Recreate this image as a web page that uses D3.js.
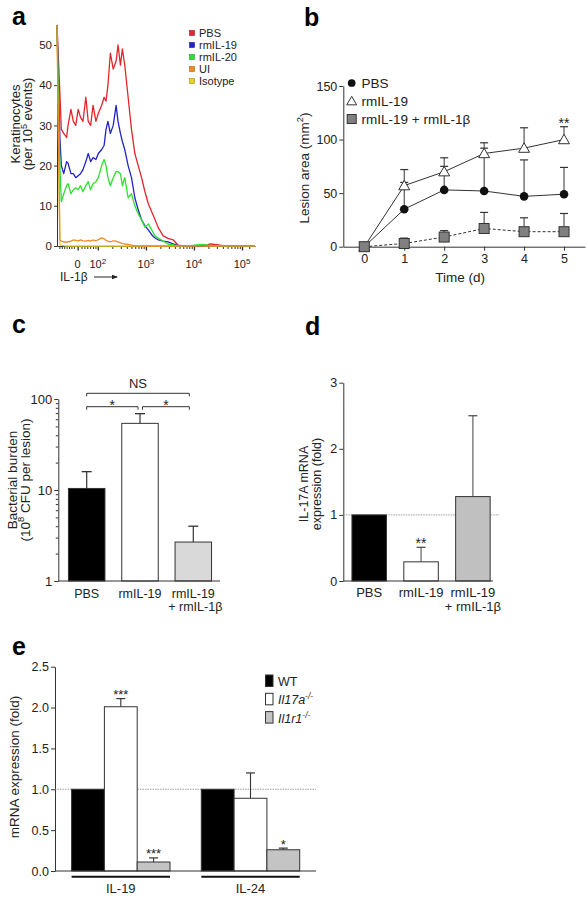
<!DOCTYPE html>
<html><head><meta charset="utf-8">
<script src="https://cdn.jsdelivr.net/npm/d3@7/dist/d3.min.js"></script>
<style>
html,body{margin:0;padding:0;background:#fff;}
svg text{font-family:"Liberation Sans",Arial,Helvetica,sans-serif;fill:#222;}
</style></head>
<body><svg id="fig" width="588" height="900"></svg>
<script>
// ================= DATA =================
// Panel a: IL-1beta histograms (x in logicle display units, y = keratinocytes per 1e5 events)
const histBins = [1.15,1.21,1.24,1.29,1.35,1.38,1.44,1.49,1.54,1.59,1.64,1.69,1.75,1.80,1.85,1.90,1.96,2.01,2.08,2.13,2.17,2.21,2.26,2.32,2.38,2.42,2.47,2.51,2.56,2.63,2.70,2.77,2.84,2.91,2.98,3.05,3.12,3.19,3.26,3.36,3.46,3.57,3.67,3.78,3.90,4.05,4.20,4.35,4.50,4.65,4.80,5.00,5.27];
const histPBS = [55,38,29,28,27,30,34,31,30,34,32,31,37,31,30,35,31,33,35,37,36,40,48,44,46,50,45,49,45,37,29,23,20,17,13.5,10.5,8.5,6.5,4.5,2.5,1.9,1.5,0.2,0,0,0,0,0.5,0.3,0,0,0,0];
const histIL19 = [55,27,20,18,21,20.6,18,18,17,17.5,18,19,21,23,21,22,21.5,23,24,25,29,31,28,30,35,31,28,26,24,20,17,12,9,6.5,5,4,2.8,2,1.5,1.2,1,0.5,0.1,0,0,0,0,0,0,0,0,0,0];
const histIL20 = [55,20,11,13,15,15.5,13,14,14.5,14,15,13.5,15,16,14,15.5,16,17,20,21.5,20,17,15,17,18.5,18.5,18,15,17,12,13,10,8,6.5,4.7,5.5,4,2.5,1.9,1.2,0.5,0.3,0,0,0,0.3,0.4,0,0,0,0,0,0];
const histUI = [55,1.5,1.2,1,1,1,1.2,1.5,1.4,1.3,1.5,1.3,1.2,1.4,1.2,1.5,1.3,1.6,2,1.8,1.4,1.2,1,1.3,1.2,1,0.8,0.6,0.5,0.4,0.2,0.1,0,0,0,0,0,0,0,0,0,0,0,0,0,0,0,0,0,0,0,0,0];
const histIso = [55,0.4,0.2,0.1,0,0,0,0,0,0,0,0,0,0,0,0,0,0,0,0,0,0,0,0,0,0,0,0,0,0,0,0,0,0,0,0,0,0,0,0,0,0,0,0,0,0,0,0,0,0,0,0,0];
const histNames = ['PBS','rmIL-19','rmIL-20','UI','Isotype'];
const histColors = ['#e3262b','#2222c8','#2ee02e','#f08a24','#e6d21a'];
const aYTicks = [0,10,20,30,40,50];
const aXMajor = [1.58,2,3,4,5];
const aXLabels = ['0','10^2','10^3','10^4','10^5'];
const aXMinor = [1.20,1.25,1.30,1.35,1.40,1.45,1.50,1.66,1.72,1.78,1.84,1.90,1.95,
  2.301,2.477,2.602,2.699,2.778,2.845,2.903,2.954,
  3.301,3.477,3.602,3.699,3.778,3.845,3.903,3.954,
  4.301,4.477,4.602,4.699,4.778,4.845,4.903,4.954,5.15];

// Panel b: lesion area over time
const days = [0,1,2,3,4,5];
const lesionPBS = [0,35,53,52,47,49];
const lesionPBSErr = [0,25,22,40,34,25];
const lesionIL19 = [0,57,70,87,92,100];
const lesionIL19Err = [0,15,13,10,19,12];
const lesionCombo = [0,3,9,17,14,14];
const lesionComboErr = [0,5,6,15,13,17];
const bYTicks = [0,50,100,150];
const bNames = ['PBS','rmIL-19','rmIL-19 + rmIL-1β'];

// Panel c: bacterial burden (log)
const cCats = ['PBS','rmIL-19','rmIL-19 + rmIL-1β'];
const cLabels = [['PBS'],['rmIL-19'],['rmIL-19','+ rmIL-1β']];
const cValues = [10.4,54,2.68];
const cErrTop = [15.9,69,4.0];
const cFills = ['#000000','#ffffff','#d9d9d9'];
const cYTicks = [1,10,100];
const cYMinor = [2,3,4,5,6,7,8,9,20,30,40,50,60,70,80,90];

// Panel d: IL-17A mRNA
const dCats = ['PBS','rmIL-19','rmIL-19 + rmIL-1β'];
const dLabels = [['PBS'],['rmIL-19'],['rmIL-19','+ rmIL-1β']];
const dValues = [1.0,0.29,1.277];
const dErrTop = [1.0,0.51,2.5];
const dFills = ['#000000','#ffffff','#c0c0c0'];
const dStars = ['','**',''];
const dYTicks = [0,1,2,3];

// Panel e: mRNA expression by genotype
const eGenes = ['IL-19','IL-24'];
const eGenotypes = ['WT','Il17a','Il1r1'];
const eWT = [1.0,1.0];
const eIl17a = [2.01,0.89];
const eIl1r1 = [0.11,0.26];
const eWTErr = [0,0];
const eIl17aErr = [0.10,0.31];
const eIl1r1Err = [0.05,0.02];
const eIl17aStars = ['***',''];
const eIl1r1Stars = ['***','*'];
const eFills = ['#000000','#ffffff','#c4c4c4'];
const eYTicks = [0,0.5,1.0,1.5,2.0,2.5];

// ================= DRAWING =================
const svg = d3.select('#fig');
const AX = '#333';
function styleAxis(g, fs) {
  g.select('.domain').attr('stroke', AX).attr('stroke-width', 1);
  g.selectAll('.tick line').attr('stroke', AX);
  g.selectAll('.tick text').attr('font-size', fs).attr('fill', '#222');
}
function panelLabel(t, x, y) {
  svg.append('text').attr('x', x).attr('y', y).attr('font-size', 25)
    .attr('font-weight', 'bold').style('fill', '#000').text(t);
}
function rotText(x, cy, fs, parts) {
  const t = svg.append('text').attr('transform', `translate(${x},${cy}) rotate(-90)`)
    .attr('text-anchor', 'middle').attr('font-size', fs);
  parts.forEach(p => {
    const s = t.append('tspan').text(p.t);
    if (p.sup) s.attr('dy', -fs * 0.38).attr('font-size', fs * 0.7);
    if (p.after) s.attr('dy', fs * 0.38);
  });
  return t;
}

// ---------- Panel a ----------
panelLabel('a', 12, 25);
const xA = d3.scaleLinear().domain([1.15, 5.27]).range([57, 255]);
const yA = d3.scaleLinear().domain([0, 55]).range([246, 24.9]);
const ayG = svg.append('g').attr('transform', 'translate(57,0)')
  .call(d3.axisLeft(yA).tickValues(aYTicks).tickFormat(d3.format('d')).tickSize(3).tickSizeOuter(0).tickPadding(2));
styleAxis(ayG, 11.5);
const axG = svg.append('g').attr('transform', 'translate(0,246)')
  .call(d3.axisBottom(xA).tickValues(aXMajor).tickSize(4.5).tickSizeOuter(0).tickFormat(''));
styleAxis(axG, 10);
axG.selectAll('.tick line').attr('stroke-width', 1.4);
const axmG = svg.append('g').attr('transform', 'translate(0,246)')
  .call(d3.axisBottom(xA).tickValues(aXMinor).tickSize(3).tickFormat(''));
axmG.select('.domain').remove();
axmG.selectAll('.tick line').attr('stroke', AX);
aXMajor.forEach((u, i) => {
  const lab = aXLabels[i];
  const t = svg.append('text').attr('x', xA(u)).attr('y', 268).attr('text-anchor', 'middle').attr('font-size', 11);
  if (lab.includes('^')) {
    const [b, e] = lab.split('^');
    t.append('tspan').text(b);
    t.append('tspan').text(e).attr('dy', -4).attr('font-size', 8);
  } else t.text(lab);
});
svg.append('text').attr('x', 60).attr('y', 281).attr('font-size', 12).text('IL-1β');
svg.append('line').attr('x1', 94).attr('x2', 117).attr('y1', 277).attr('y2', 277).attr('stroke', '#222').attr('stroke-width', 1);
svg.append('path').attr('d', 'M118,277 L112,274.8 L112,279.2 Z').attr('fill', '#222');
const lineA = d3.line().x((d, i) => xA(histBins[i])).y(d => yA(d));
const histSeries = [histIso, histPBS, histIL19, histIL20, histUI];
const histOrder = [4, 0, 1, 2, 3];
histSeries.forEach((s, k) => {
  svg.append('path').datum(s).attr('d', lineA).attr('fill', 'none')
    .attr('stroke', histColors[histOrder[k]]).attr('stroke-width', 1.3).attr('stroke-linejoin', 'round');
});
rotText(19.5, 124, 13, [{t: 'Keratinocytes'}]);
rotText(32, 124, 13, [{t: '(per 10'}, {t: '5', sup: true}, {t: ' events)', after: true}]);
histNames.forEach((n, i) => {
  const y = 37 + i * 12;
  svg.append('rect').attr('x', 189.5).attr('y', y - 6.5).attr('width', 5).attr('height', 5)
    .attr('fill', histColors[i]).attr('stroke', d3.color(histColors[i]).darker(1)).attr('stroke-width', 0.6);
  svg.append('text').attr('x', 199).attr('y', y).attr('font-size', 11).text(n);
});

// ---------- Panel b ----------
panelLabel('b', 304, 26);
const xB = d3.scaleLinear().domain([-0.525, 5.525]).range([343.3, 585]);
const yB = d3.scaleLinear().domain([0, 150]).range([246.7, 86]);
const byG = svg.append('g').attr('transform', `translate(${xB(-0.525)},0)`)
  .call(d3.axisLeft(yB).tickValues(bYTicks).tickFormat(d3.format('d')).tickSize(4).tickSizeOuter(0).tickPadding(2));
styleAxis(byG, 12.5);
const bxG = svg.append('g').attr('transform', `translate(0,${yB(0)})`)
  .call(d3.axisBottom(xB).tickValues(days).tickFormat(d3.format('d')).tickSize(4).tickSizeOuter(0).tickPadding(3));
styleAxis(bxG, 12.5);
svg.append('text').attr('x', xB(2.4)).attr('y', 282).attr('text-anchor', 'middle').attr('font-size', 13.5).text('Time (d)');
rotText(308.5, 168, 13.5, [{t: 'Lesion area (mm'}, {t: '2', sup: true}, {t: ')', after: true}]);
const bSeries = [
  {vals: lesionPBS, errs: lesionPBSErr, marker: 'circle', dash: null},
  {vals: lesionIL19, errs: lesionIL19Err, marker: 'triangle', dash: null},
  {vals: lesionCombo, errs: lesionComboErr, marker: 'square', dash: '3,2'}
];
function drawMarker(g, type, x, y, scale) {
  const s = scale || 1;
  if (type === 'circle') g.append('circle').attr('cx', x).attr('cy', y).attr('r', 4.3 * s).attr('fill', '#111');
  else if (type === 'triangle') g.append('path').attr('transform', `translate(${x},${y + 1})`)
    .attr('d', d3.symbol(d3.symbolTriangle, 52 * s * s)()).attr('fill', '#fff').attr('stroke', '#333').attr('stroke-width', 1);
  else g.append('rect').attr('x', x - 5 * s).attr('y', y - 5 * s).attr('width', 10 * s).attr('height', 10 * s)
    .attr('fill', '#808080').attr('stroke', '#333').attr('stroke-width', 1);
}
const gB = svg.append('g');
bSeries.forEach(s => {
  s.vals.forEach((v, i) => {
    if (s.errs[i] > 0) {
      const x = xB(days[i]);
      gB.append('line').attr('x1', x).attr('x2', x).attr('y1', yB(v)).attr('y2', yB(v + s.errs[i])).attr('stroke', '#333');
      gB.append('line').attr('x1', x - 4).attr('x2', x + 4).attr('y1', yB(v + s.errs[i])).attr('y2', yB(v + s.errs[i])).attr('stroke', '#333').attr('stroke-width', 1.2);
    }
  });
});
bSeries.forEach(s => {
  const ln = d3.line().x((d, i) => xB(days[i])).y(d => yB(d));
  const p = gB.append('path').datum(s.vals).attr('d', ln).attr('fill', 'none').attr('stroke', '#333').attr('stroke-width', 1);
  if (s.dash) p.attr('stroke-dasharray', s.dash);
});
bSeries.forEach(s => s.vals.forEach((v, i) => drawMarker(gB, s.marker, xB(days[i]), yB(v))));
svg.append('text').attr('x', xB(5)).attr('y', yB(lesionIL19[5] + lesionIL19Err[5]) + 1.5).attr('text-anchor', 'middle').attr('font-size', 14).text('**');
bNames.forEach((n, i) => {
  const y = 83 + i * 18;
  drawMarker(svg, bSeries[i].marker, 351.7, y, 0.9);
  svg.append('text').attr('x', 361.5).attr('y', y + 5).attr('font-size', 13.5).text(n);
});

// ---------- Panel c ----------
panelLabel('c', 12, 333);
const yC = d3.scaleLog().domain([1, 100]).range([581, 399]);
const xC = d3.scalePoint().domain(cCats).range([86.7, 193.3]);
const cW = 36.5;
const cyG = svg.append('g').attr('transform', 'translate(58.3,0)')
  .call(d3.axisLeft(yC).tickValues(cYTicks).tickFormat(d3.format('d')).tickSize(4).tickSizeOuter(0).tickPadding(2));
styleAxis(cyG, 13);
const cymG = svg.append('g').attr('transform', 'translate(58.3,0)')
  .call(d3.axisLeft(yC).tickValues(cYMinor).tickFormat('').tickSize(2.5));
cymG.select('.domain').remove();
cymG.selectAll('.tick line').attr('stroke', AX);
cCats.forEach((c, i) => {
  const x = xC(c);
  svg.append('line').attr('x1', x).attr('x2', x).attr('y1', yC(cValues[i])).attr('y2', yC(cErrTop[i])).attr('stroke', '#333').attr('stroke-width', 1.2);
  svg.append('line').attr('x1', x - 5).attr('x2', x + 5).attr('y1', yC(cErrTop[i])).attr('y2', yC(cErrTop[i])).attr('stroke', '#333').attr('stroke-width', 1.3);
  svg.append('rect').attr('x', x - cW / 2).attr('y', yC(cValues[i])).attr('width', cW).attr('height', yC(1) - yC(cValues[i]))
    .attr('fill', cFills[i]).attr('stroke', '#333').attr('stroke-width', 1);
  cLabels[i].forEach((l, j) => svg.append('text').attr('x', x + (j ? 2 : 0)).attr('y', 598 + j * 13).attr('text-anchor', 'middle').attr('font-size', 12.5).text(l));
});
svg.append('line').attr('x1', 58.3).attr('x2', 220).attr('y1', yC(1)).attr('y2', yC(1)).attr('stroke', AX);
function bracket(x1, x2, y, label, fs) {
  svg.append('path').attr('d', `M${x1},${y + 3}V${y}H${x2}V${y + 3}`).attr('fill', 'none').attr('stroke', '#333').attr('stroke-width', 1);
  svg.append('text').attr('x', (x1 + x2) / 2).attr('y', y - (label === 'NS' ? 5 : -3)).attr('text-anchor', 'middle').attr('font-size', fs).text(label);
}
bracket(xC(cCats[0]), xC(cCats[2]) - 4, 393.3, 'NS', 13);
bracket(xC(cCats[0]), xC(cCats[1]) - 2, 406.7, '*', 14);
bracket(xC(cCats[1]) + 2.5, xC(cCats[2]) - 4, 406.7, '*', 14);
rotText(16.5, 480, 13.5, [{t: 'Bacterial burden'}]);
rotText(29.5, 480, 13.5, [{t: '(10'}, {t: '8', sup: true}, {t: ' CFU per lesion)', after: true}]);

// ---------- Panel d ----------
panelLabel('d', 305, 335);
const yD = d3.scaleLinear().domain([0, 3]).range([581, 382.7]);
const xD = d3.scalePoint().domain(dCats).range([369.2, 472.9]);
const dW = 34.5;
const dyG = svg.append('g').attr('transform', 'translate(343.3,0)')
  .call(d3.axisLeft(yD).tickValues(dYTicks).tickFormat(d3.format('d')).tickSize(4).tickSizeOuter(0).tickPadding(2));
styleAxis(dyG, 12.5);
svg.append('line').attr('x1', 343.3).attr('x2', 499).attr('y1', yD(1)).attr('y2', yD(1))
  .attr('stroke', '#888').attr('stroke-width', 0.8).attr('stroke-dasharray', '1.5,1');
dCats.forEach((c, i) => {
  const x = xD(c);
  if (dErrTop[i] > dValues[i]) {
    svg.append('line').attr('x1', x).attr('x2', x).attr('y1', yD(dValues[i])).attr('y2', yD(dErrTop[i])).attr('stroke', '#444').attr('stroke-width', 1);
    svg.append('line').attr('x1', x - 4.5).attr('x2', x + 4.5).attr('y1', yD(dErrTop[i])).attr('y2', yD(dErrTop[i])).attr('stroke', '#444').attr('stroke-width', 1.2);
  }
  svg.append('rect').attr('x', x - dW / 2).attr('y', yD(dValues[i])).attr('width', dW).attr('height', yD(0) - yD(dValues[i]))
    .attr('fill', dFills[i]).attr('stroke', '#333').attr('stroke-width', 1);
  if (dStars[i]) svg.append('text').attr('x', x).attr('y', yD(dErrTop[i]) + 1).attr('text-anchor', 'middle').attr('font-size', 14).text(dStars[i]);
  dLabels[i].forEach((l, j) => svg.append('text').attr('x', x).attr('y', 597 + j * 14).attr('text-anchor', 'middle').attr('font-size', 13).text(l));
});
svg.append('line').attr('x1', 343.3).attr('x2', 493).attr('y1', yD(0)).attr('y2', yD(0)).attr('stroke', AX);
rotText(308, 484, 12.5, [{t: 'IL-17A mRNA'}]);
rotText(320.5, 484, 12.5, [{t: 'expression (fold)'}]);

// ---------- Panel e ----------
panelLabel('e', 12, 655);
const yE = d3.scaleLinear().domain([0, 2.5]).range([871, 666.7]);
const xEg = d3.scalePoint().domain(eGenes).range([120.8, 250.5]);
const xEi = d3.scaleBand().domain(eGenotypes).range([-49.2, 49.2]);
const eyG = svg.append('g').attr('transform', 'translate(55,0)')
  .call(d3.axisLeft(yE).tickValues(eYTicks).tickFormat(d3.format('.1f')).tickSize(4).tickSizeOuter(0).tickPadding(2));
styleAxis(eyG, 12.5);
svg.append('line').attr('x1', 55).attr('x2', 316).attr('y1', yE(1)).attr('y2', yE(1))
  .attr('stroke', '#888').attr('stroke-width', 0.8).attr('stroke-dasharray', '1.5,1');
const eVals = [eWT, eIl17a, eIl1r1];
const eErrs = [eWTErr, eIl17aErr, eIl1r1Err];
const eStars = [['', ''], eIl17aStars, eIl1r1Stars];
eGenes.forEach((gname, gi) => {
  eGenotypes.forEach((gt, k) => {
    const x0 = xEg(gname) + xEi(gt), w = xEi.bandwidth(), xc = x0 + w / 2;
    const v = eVals[k][gi], e = eErrs[k][gi];
    if (e > 0) {
      svg.append('line').attr('x1', xc).attr('x2', xc).attr('y1', yE(v)).attr('y2', yE(v + e)).attr('stroke', '#333').attr('stroke-width', 1.1);
      svg.append('line').attr('x1', xc - 4.5).attr('x2', xc + 4.5).attr('y1', yE(v + e)).attr('y2', yE(v + e)).attr('stroke', '#333').attr('stroke-width', 1.2);
    }
    svg.append('rect').attr('x', x0).attr('y', yE(v)).attr('width', w).attr('height', yE(0) - yE(v))
      .attr('fill', eFills[k]).attr('stroke', '#333').attr('stroke-width', 1);
    if (eStars[k][gi]) svg.append('text').attr('x', xc).attr('y', yE(v + e) + 0.5).attr('text-anchor', 'middle').attr('font-size', 13).text(eStars[k][gi]);
  });
  const xs = xEg(gname) + xEi.range()[0], xe = xEg(gname) + xEi.range()[1];
  svg.append('line').attr('x1', xs).attr('x2', xe).attr('y1', 876.7).attr('y2', 876.7).attr('stroke', '#111').attr('stroke-width', 2);
  svg.append('text').attr('x', xEg(gname)).attr('y', 893).attr('text-anchor', 'middle').attr('font-size', 13).text(gname);
});
svg.append('line').attr('x1', 55).attr('x2', 316).attr('y1', yE(0)).attr('y2', yE(0)).attr('stroke', AX);
rotText(18.5, 767, 13.5, [{t: 'mRNA expression (fold)'}]);
eGenotypes.forEach((gt, k) => {
  const y = 675 + k * 18.3;
  svg.append('rect').attr('x', 265.5).attr('y', y).attr('width', 7.5).attr('height', 11.5)
    .attr('fill', eFills[k]).attr('stroke', '#333').attr('stroke-width', 1);
  const t = svg.append('text').attr('x', 278).attr('y', y + 11).attr('font-size', 12.5);
  if (gt === 'WT') t.text('WT');
  else {
    t.append('tspan').attr('font-style', 'italic').text(gt);
    t.append('tspan').attr('font-style', 'italic').attr('font-size', 8.5).attr('dy', -5).text('-/-');
  }
});
</script></body></html>
